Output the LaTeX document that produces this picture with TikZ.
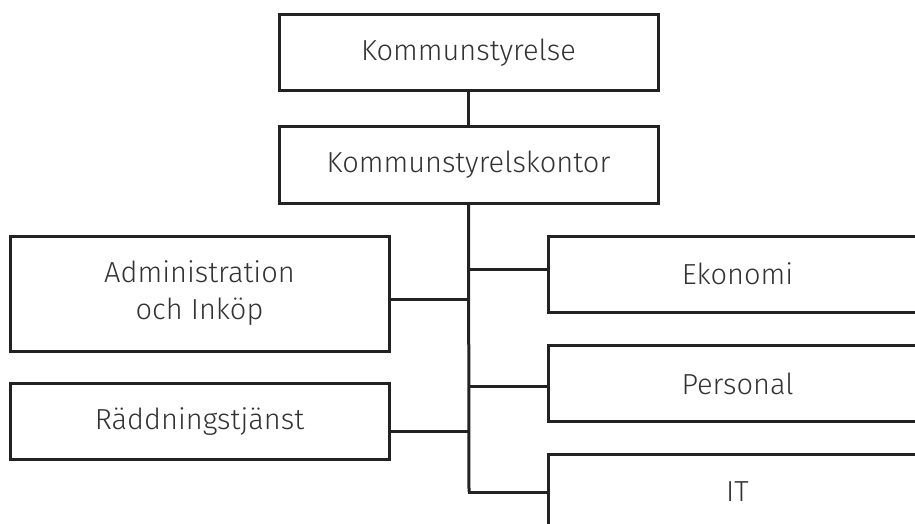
\documentclass[tikz,border=0pt]{standalone}
\usepackage{fontspec}
\setmainfont{Fira Sans Light}
\definecolor{txt}{HTML}{333333}
\definecolor{ln}{HTML}{222222}
\begin{document}
\begin{tikzpicture}[x=1pt,y=-1pt,
  orgbox/.style={draw=ln,line width=3pt,fill=white,minimum width=379pt,minimum height=76pt,inner sep=0pt,align=center,text=txt,font=\fontsize{29}{37}\selectfont},
  conn/.style={draw=ln,line width=3pt}]
\useasboundingbox (0,0) rectangle (915,524);
\clip (0,0) rectangle (915,524);
\fill[white] (0,0) rectangle (915,524);
\node[orgbox] (ks) at (468.5,53) {Kommunstyrelse};
\node[orgbox] (kk) at (468.5,165) {Kommunstyrelskontor};
\node[orgbox,minimum height=115pt] (adm) at (199.5,293.5) {Administration\\och Inköp};
\node[orgbox] (rad) at (199.5,421.5) {Räddningstjänst};
\node[orgbox] (eko) at (737.5,274) {Ekonomi};
\node[orgbox] (per) at (737.5,383.5) {Personal};
\node[orgbox] (it) at (737.5,492) {IT};
\coordinate (tb) at (469,492);
\draw[conn] (ks.south) -- (kk.north);
\draw[conn] (kk.south) -- (tb);
\draw[conn] (adm.east |- 0,299) -- (tb |- 0,299);
\draw[conn] (rad.east |- 0,431) -- (tb |- 0,431);
\draw[conn] (tb |- 0,269) -- (eko.west |- 0,269);
\draw[conn] (tb |- 0,386) -- (per.west |- 0,386);
\draw[conn,line cap=rect] (tb) -- (it.west |- tb);
\end{tikzpicture}
\end{document}
